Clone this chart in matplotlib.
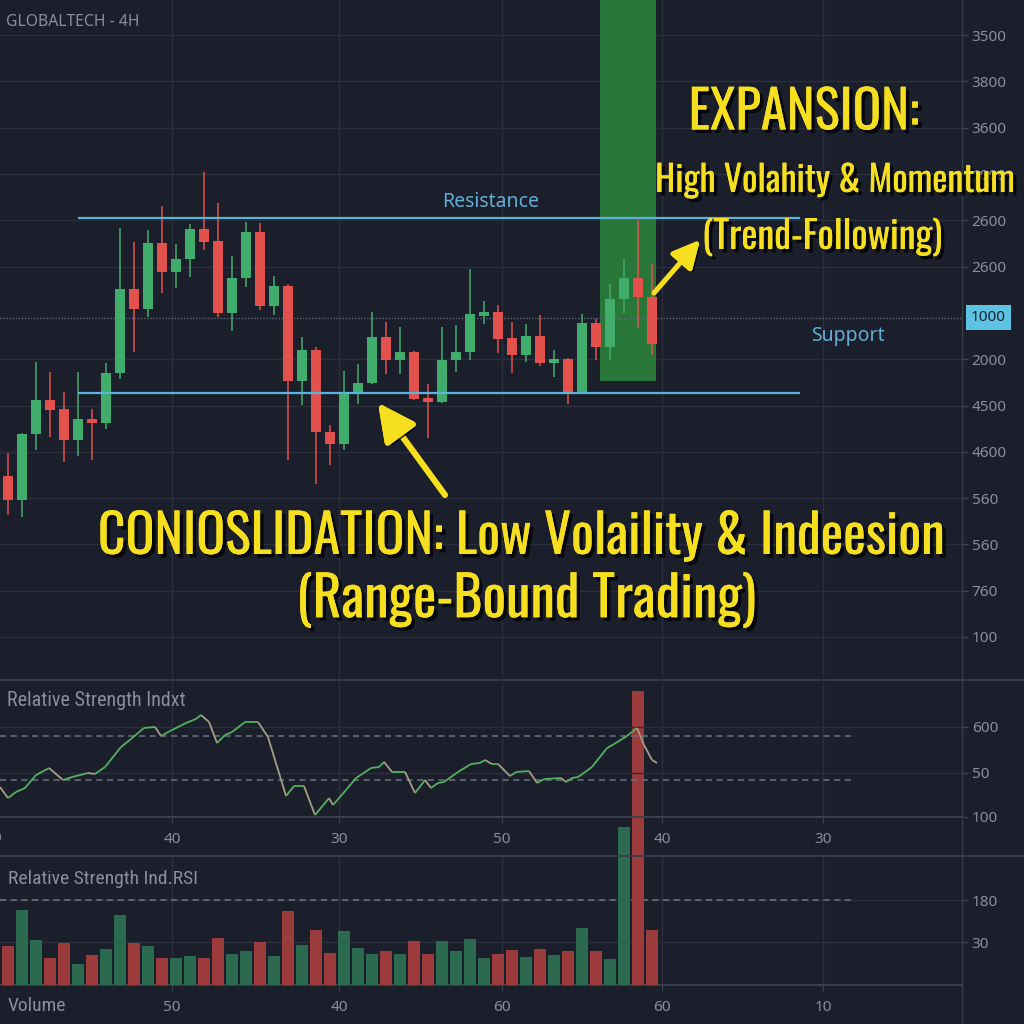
import matplotlib
matplotlib.use("Agg")
import matplotlib.pyplot as plt
from matplotlib import font_manager
from matplotlib.collections import LineCollection
from matplotlib.lines import Line2D
import matplotlib.patheffects as pe
import matplotlib.transforms as mtrans
import numpy as np

# ---------------- data ----------------
candle_open  = [348, 296, 438, 512, 492, 426, 471, 462, 570, 752, 708, 851, 788, 816, 881, 855,
                700, 775, 875, 715, 758, 553, 620, 443, 417, 527, 549, 648, 598, 616, 516, 508,
                598, 616, 693, 702, 646, 609, 650, 592, 600, 527, 678, 626, 730, 775, 734]
candle_high  = [397, 441, 594, 572, 529, 572, 492, 592, 883, 853, 879, 931, 849, 892, 1004, 937,
                823, 896, 894, 780, 762, 648, 626, 458, 575, 590, 702, 680, 670, 618, 546, 670,
                674, 795, 726, 717, 680, 676, 696, 620, 603, 698, 687, 762, 816, 901, 806]
candle_low   = [264, 259, 404, 432, 378, 391, 382, 449, 557, 616, 691, 743, 754, 778, 836, 691,
                661, 756, 706, 696, 382, 501, 330, 372, 404, 503, 546, 568, 568, 512, 430, 505,
                572, 598, 676, 613, 570, 594, 585, 562, 503, 527, 598, 598, 700, 667, 609]
candle_close = [296, 438, 512, 490, 426, 471, 462, 570, 752, 708, 851, 788, 816, 881, 853, 700,
                775, 875, 715, 758, 553, 620, 443, 417, 527, 549, 648, 598, 616, 514, 508, 598,
                616, 698, 702, 644, 609, 650, 592, 600, 527, 678, 626, 730, 775, 734, 633]
volume = [46, 89, 54, 32, 50, 25, 36, 43, 83, 50, 46, 32, 32, 35, 32, 56,
          37, 40, 51, 35, 88, 48, 65, 38, 64, 44, 37, 40, 37, 52, 37, 52,
          40, 55, 32, 37, 42, 33, 43, 36, 40, 68, 40, 31, 188, 350, 65]

rsi_x = [-0.57, 0.0, 0.57, 1.21, 2.0, 2.93, 3.93, 4.57, 5.71, 6.21, 6.93, 8.07, 8.79, 9.71,
         10.5, 10.93, 11.57, 12.71, 13.43, 13.79, 14.36, 14.93, 15.5, 16.0, 16.93, 17.86,
         18.57, 19.07, 19.86, 20.43, 21.14, 21.93, 22.93, 23.21, 24.14, 24.86, 25.93, 26.5,
         26.86, 27.43, 28.36, 29.07, 29.79, 30.21, 30.71, 31.14, 32.14, 33.07, 33.71, 34.07,
         34.57, 35.0, 35.86, 36.29, 37.21, 37.79, 38.29, 39.5, 39.86, 40.29, 40.71, 41.71,
         42.79, 43.29, 44.21, 44.93, 45.43, 46.0, 46.36]
rsi_val = [23.6, 13.6, 19.1, 22.7, 34.5, 40.9, 30.0, 32.7, 36.4, 35.5, 41.8, 60.0, 67.3, 77.3,
           78.2, 70.0, 74.5, 81.8, 85.5, 89.1, 82.7, 63.6, 70.9, 73.6, 82.7, 82.7,
           69.1, 48.2, 15.5, 24.5, 24.5, -1.8, 13.6, 7.3, 20.9, 31.8, 40.9, 41.8,
           46.4, 37.3, 37.3, 18.2, 30.0, 22.7, 27.3, 28.2, 37.3, 44.5, 45.5, 48.2,
           44.5, 44.5, 33.6, 37.3, 38.2, 27.3, 30.9, 31.8, 28.2, 31.8, 32.7, 41.8,
           59.1, 62.7, 70.0, 77.3, 61.8, 48.2, 45.5]

resistance_level = 905
support_level = 527
last_price_level = 690
expansion_start, expansion_end = 42.3, 46.3
expansion_floor = 553

main_ticks = [0, 100, 200, 300, 400, 500, 600, 800, 900, 1000, 1100, 1200, 1300]
main_tick_labels = ["100", "760", "560", "560", "4600", "4500", "2000", "2600", "2600",
                    "1000", "3600", "3800", "3500"]
rsi_ticks = [-3.6, 36.4, 78.2]
rsi_tick_labels = ["100", "50", "600"]
rsi_bands = [30, 70]
vol_ticks = [51, 101]
vol_tick_labels = ["30", "180"]
x_grid = [11.71, 23.64, 35.29, 46.71, 58.21]
rsi_x_labels = ["40", "30", "50", "40", "30"]
vol_x_labels = ["50", "40", "60", "60", "10"]

# ---------------- style ----------------
BG = "#1b1f2b"
GRID = "#2a2f3b"
SEP = "#393e4a"
TXT = "#8a8f9a"
GREEN = "#41ad6c"
RED = "#e2514c"
VGREEN = "#2c6a50"
VRED = "#9c3b3b"
YEL = "#f6df1f"
BLUE = "#5ab4dc"

names = {f.name for f in font_manager.fontManager.ttflist}


def pick(cands):
    for n in cands:
        if n in names:
            return n
    return "DejaVu Sans"


BIG = pick(["Oswald", "Barlow Condensed", "Roboto Condensed", "Fjalla One"])
SMALLC = pick(["Roboto Condensed", "Barlow Semi Condensed", "Open Sans Condensed",
               "Barlow Condensed"])
plt.rcParams["font.family"] = ["Noto Sans", "DejaVu Sans"]

W = 1024
fig = plt.figure(figsize=(10.24, 10.24), dpi=100, facecolor=BG)


def rect(x0, y0, x1, y1):
    return [x0 / W, 1 - y1 / W, (x1 - x0) / W, (y1 - y0) / W]


ax = fig.add_axes(rect(0, 0, 962, 680))
ax_rsi = fig.add_axes(rect(0, 680, 962, 817))
ax_vol = fig.add_axes(rect(0, 856, 962, 985))
ax_vol.set_zorder(1)
ax_rsi.set_zorder(2)
ax.set_zorder(3)

XL = (-0.571, 68.14)
for a in (ax, ax_rsi, ax_vol):
    a.set_facecolor("none")
    a.set_xlim(*XL)
    for s in a.spines.values():
        s.set_visible(False)
    a.yaxis.tick_right()
    a.tick_params(axis="y", which="both", direction="out", length=4, width=1,
                  color="#3d4250", labelcolor=TXT, labelsize=11, pad=3)
    a.set_xticks(x_grid)
    a.grid(True, color=GRID, lw=1)
    a.set_axisbelow(True)

# ---------------- main panel ----------------
ax.set_ylim(-93, 1376)
ax.set_yticks(main_ticks)
ax.set_yticklabels(main_tick_labels)
ax.tick_params(axis="x", length=0, labelbottom=False)

o = np.array(candle_open, float)
h = np.array(candle_high, float)
l = np.array(candle_low, float)
c = np.array(candle_close, float)
idx = np.arange(len(o))
up = c >= o
cols = np.where(up, GREEN, RED)

ax.axvspan(expansion_start, expansion_end, ymin=(expansion_floor + 93) / 1469, ymax=1,
           color="#2d8b3b", alpha=0.82, lw=0, zorder=1)
ax.vlines(idx, l, h, colors=cols, lw=1.1, zorder=3)
body_b = np.minimum(o, c)
body_h = np.maximum(np.abs(c - o), 4)
ax.bar(idx, body_h, bottom=body_b, width=0.72, color=cols, lw=0, zorder=4)

ax.hlines([resistance_level, support_level], 5.0, 56.57, colors=BLUE, lw=1.6, zorder=5)
ax.axhline(last_price_level, color="#5f6674", lw=1, ls=(0, (1, 1.2)), zorder=2)
ax.text(34.5, resistance_level + 35, "Resistance", color="#62aed6", fontsize=14,
        ha="center", va="center")
ax.text(60.0, support_level + 123, "Support", color="#62aed6", fontsize=14,
        ha="center", va="center")

tr = mtrans.blended_transform_factory(ax.transAxes, ax.transData)
ax.text(1.0095, last_price_level, "1000", transform=tr, color="#1a2130", fontsize=11,
        ha="left", va="center", clip_on=False, zorder=10,
        bbox=dict(boxstyle="square,pad=0.33", fc="#5cc4e2", ec="none"))

fig.text(6 / W, 1 - 22 / W, "GLOBALTECH - 4H", color=TXT, fontsize=11.3, ha="left",
         va="center")

# ---------------- annotations ----------------
shadow = [pe.withSimplePatchShadow(offset=(2.5, -2.5), shadow_rgbFace="#000000", alpha=0.75),
          pe.Normal()]


def ftxt(x, y, s, size):
    fig.text(x / W, 1 - y / W, s, color=YEL, fontsize=size, fontweight="bold",
             family=[BIG, "DejaVu Sans"], ha="center", va="center",
             path_effects=shadow, zorder=20)


ftxt(804, 113, "EXPANSION:", 38)
ftxt(835, 181, "High Volahity & Momentum", 26)
ftxt(822, 237, "(Trend-Following)", 27.5)
ftxt(521, 537, "CONIOSLIDATION: Low Volaility & Indeesion", 38.7)
ftxt(526, 600, "(Range-Bound Trading)", 40)


def farrow(tail, tip, lw, ms):
    ax.annotate("", xy=(tip[0], W - tip[1]), xytext=(tail[0], W - tail[1]),
                xycoords="figure pixels", textcoords="figure pixels",
                arrowprops=dict(arrowstyle="-|>,head_length=1.5,head_width=0.75",
                                lw=lw, color=YEL, mutation_scale=ms, shrinkA=0, shrinkB=0,
                                path_effects=shadow), zorder=20)


farrow((445, 495), (378, 403), 4.2, 15)
farrow((654, 293), (700, 240), 3.4, 11)

# ---------------- RSI panel ----------------
ax_rsi.set_ylim(-3.6, 120.9)
ax_rsi.set_yticks(rsi_ticks)
ax_rsi.set_yticklabels(rsi_tick_labels)
ax_rsi.set_xticklabels(rsi_x_labels)
ax_rsi.tick_params(axis="x", direction="out", length=4, color="#3d4250", labelcolor=TXT,
                   labelsize=11, pad=6.5)
ax_rsi.spines["bottom"].set_visible(True)
ax_rsi.spines["bottom"].set_color("#3d4250")
ax_rsi.spines["bottom"].set_linewidth(1.3)
ax_rsi.hlines(rsi_bands, XL[0], 60.36, colors="#6d7380", lw=1.1, ls=(0, (4, 3)))
pts = np.column_stack([rsi_x, rsi_val])
segs = np.stack([pts[:-1], pts[1:]], axis=1)
rv = np.array(rsi_val)
seg_cols = np.where(np.diff(rv) >= 0, "#55b060", "#a89c84")
ax_rsi.add_collection(LineCollection(segs, colors=seg_cols, lw=1.3, zorder=5))
fig.text(7 / W, 1 - 700 / W, "Relative Strength Indxt", color=TXT, fontsize=14.5,
         family=[SMALLC, "DejaVu Sans"], ha="left", va="center")
fig.text(-3 / W, 1 - 838 / W, "0", color=TXT, fontsize=11, ha="center", va="center")

# ---------------- volume panel ----------------
ax_vol.set_ylim(0, 153.6)
ax_vol.set_yticks(vol_ticks)
ax_vol.set_yticklabels(vol_tick_labels)
ax_vol.set_xticklabels(vol_x_labels)
ax_vol.tick_params(axis="x", direction="out", length=4, color="#3d4250", labelcolor=TXT,
                   labelsize=11, pad=6.5)
ax_vol.spines["bottom"].set_visible(True)
ax_vol.spines["bottom"].set_color("#3d4250")
ax_vol.spines["bottom"].set_linewidth(1.3)
ax_vol.hlines([vol_ticks[1]], XL[0], 60.36, colors="#6d7380", lw=1.1, ls=(0, (4, 3)))
vcols = np.where(up, VGREEN, VRED)
bars = ax_vol.bar(idx, volume, width=0.79, color=vcols, lw=0, zorder=3)
for b in bars:
    b.set_clip_on(False)
fig.text(8 / W, 1 - 879 / W, "Relative Strength Ind.RSI", color=TXT, fontsize=14,
         family=[SMALLC, "DejaVu Sans"], ha="left", va="center")
fig.text(8 / W, 1 - 1006 / W, "Volume", color=TXT, fontsize=14,
         family=[SMALLC, "DejaVu Sans"], ha="left", va="center")

# ---------------- separators ----------------
fig.add_artist(Line2D([0, 1], [1 - 679.5 / W] * 2, color=SEP, lw=1.3, transform=fig.transFigure))
fig.add_artist(Line2D([0, 1], [1 - 856 / W] * 2, color=SEP, lw=1.3, transform=fig.transFigure))
fig.add_artist(Line2D([962 / W] * 2, [0, 1], color=SEP, lw=1.0, transform=fig.transFigure))

fig.savefig("out.png", dpi=100, facecolor=BG)
